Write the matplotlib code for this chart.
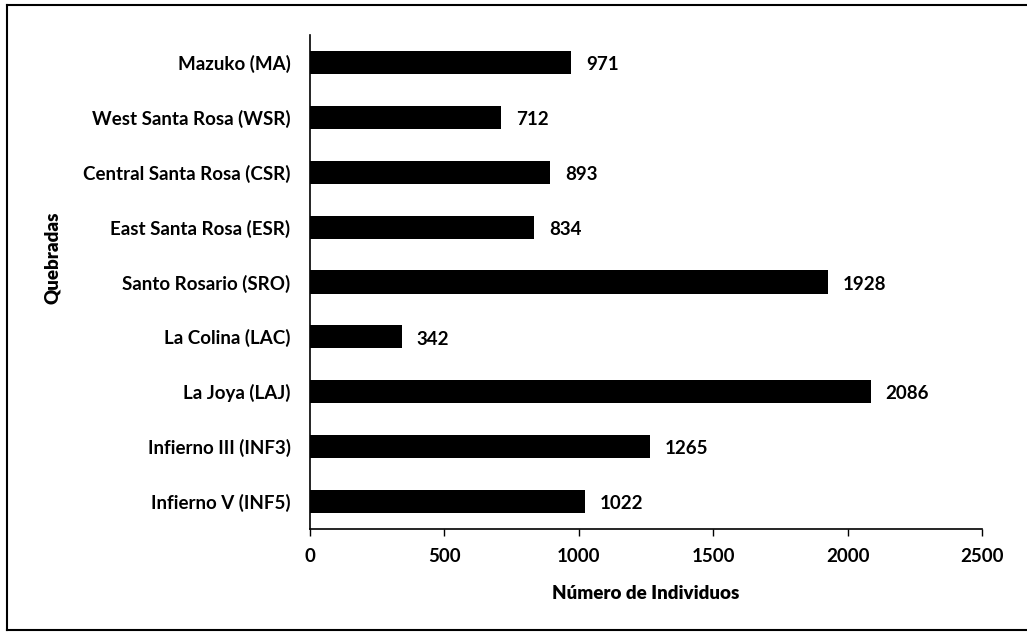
import matplotlib
matplotlib.use("Agg")
import matplotlib.pyplot as plt
from matplotlib.lines import Line2D

sites = ['Mazuko (MA)', 'West Santa Rosa (WSR)', 'Central Santa Rosa (CSR)',
         'East Santa Rosa (ESR)', 'Santo Rosario (SRO)', 'La Colina (LAC)',
         'La Joya (LAJ)', 'Infierno III (INF3)', 'Infierno V (INF5)']
counts = [971, 712, 893, 834, 1928, 342, 2086, 1265, 1022]
xticks = [0, 500, 1000, 1500, 2000, 2500]

plt.rcParams['font.family'] = ['Lato', 'DejaVu Sans']
fs = 13.5
fw = 'bold'

fig = plt.figure(figsize=(10.27, 6.35), dpi=100)
ax = fig.add_axes([0.3018, 0.1669, 0.6544, 0.778])

pos = list(range(len(sites)))
ax.barh(pos, counts, height=0.42, color='black')
for p, c in zip(pos, counts):
    ax.text(c + 55, p + 0.04, str(c), va='center', ha='left', fontsize=fs, fontweight=fw)

ax.set_ylim(len(sites) - 0.5, -0.5)
ax.set_xlim(0, 2500)
ax.set_yticks(pos)
ax.set_yticklabels(sites, fontsize=fs, fontweight=fw)
ax.set_xticks(xticks)
ax.set_xticklabels([str(t) for t in xticks], fontsize=fs, fontweight=fw)
ax.tick_params(axis='y', length=0, pad=14)
ax.tick_params(axis='x', length=5, width=1, direction='out', pad=9)
ax.spines['top'].set_visible(False)
ax.spines['right'].set_visible(False)
ax.spines['left'].set_linewidth(1.2)
ax.spines['bottom'].set_linewidth(1.2)
ax.set_xlabel('Número de Individuos', fontsize=fs, fontweight='heavy', labelpad=14)
ax.set_ylabel('Quebradas', fontsize=fs, fontweight='heavy')
ax.yaxis.set_label_coords(-0.37, 0.55)

# frame around the figure (right side cut off in the original)
for xs, ys in [([0.007, 0.007], [0.008, 0.992]),
               ([0.007, 1.0], [0.992, 0.992]),
               ([0.007, 1.0], [0.008, 0.008])]:
    fig.add_artist(Line2D(xs, ys, transform=fig.transFigure, color='black', lw=1.5))

fig.savefig('out.png', dpi=100)
